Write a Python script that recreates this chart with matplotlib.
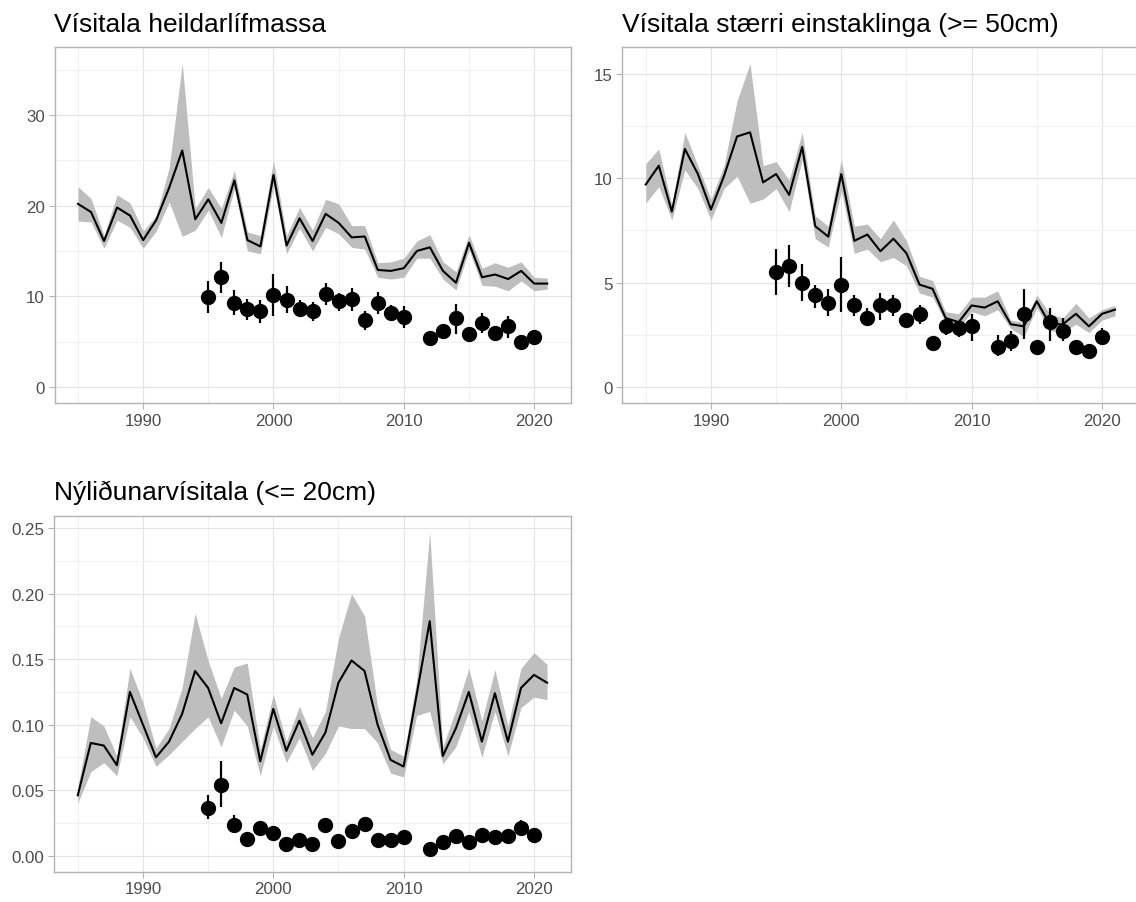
import numpy as np
import matplotlib
matplotlib.use("Agg")
import matplotlib.pyplot as plt
from matplotlib.ticker import MultipleLocator, FormatStrFormatter

plt.rcParams['font.family'] = ['Liberation Sans', 'DejaVu Sans']

years = list(range(1985, 2022))
pt_years = [1995, 1996, 1997, 1998, 1999, 2000, 2001, 2002, 2003, 2004, 2005, 2006,
            2007, 2008, 2009, 2010, 2012, 2013, 2014, 2015, 2016, 2017, 2018, 2019, 2020]

# Vísitala heildarlífmassa
bio_est = [20.2, 19.3, 16.1, 19.8, 18.9, 16.2, 18.4, 22.0, 26.1, 18.5, 20.7, 18.1, 22.8,
           16.2, 15.5, 23.4, 15.6, 18.6, 16.1, 19.1, 18.1, 16.5, 16.6, 12.9, 12.8, 13.1,
           15.0, 15.4, 12.8, 11.5, 15.9, 12.1, 12.4, 11.9, 12.8, 11.4, 11.4]
bio_hi = [22.1, 20.8, 16.7, 21.2, 20.3, 17.2, 18.9, 24.2, 35.7, 19.7, 22.0, 19.7, 23.9,
          17.1, 16.7, 25.0, 16.7, 19.8, 17.3, 20.7, 20.2, 17.8, 17.8, 13.7, 13.8, 14.2,
          16.1, 16.8, 13.8, 12.7, 16.8, 13.1, 13.7, 13.2, 13.8, 12.1, 12.0]
bio_lo = [18.3, 18.2, 15.3, 18.4, 17.6, 15.3, 17.2, 20.4, 16.6, 17.3, 19.5, 16.5, 21.9,
          15.0, 14.7, 22.2, 14.7, 17.5, 15.0, 17.6, 16.9, 15.4, 15.2, 12.1, 11.9, 12.1,
          14.2, 14.2, 11.9, 10.7, 15.1, 11.2, 11.1, 10.6, 11.7, 10.6, 10.8]
bio_obs = [9.9, 12.1, 9.3, 8.6, 8.4, 10.1, 9.6, 8.6, 8.4, 10.2, 9.5, 9.7, 7.4, 9.3, 8.1,
           7.7, 5.4, 6.2, 7.6, 5.8, 7.1, 5.9, 6.7, 4.9, 5.5]
bio_obs_hi = [11.7, 13.8, 10.7, 9.7, 9.6, 12.5, 11.1, 9.6, 9.4, 11.5, 10.4, 10.9, 8.4,
              10.5, 9.0, 8.9, 6.1, 6.8, 9.2, 6.4, 8.1, 6.5, 7.8, 5.5, 6.1]
bio_obs_lo = [8.1, 10.4, 7.9, 7.4, 7.1, 7.8, 8.1, 7.7, 7.3, 9.0, 8.4, 8.4, 6.3, 8.0, 7.3,
              6.5, 4.5, 5.4, 5.8, 5.2, 5.9, 5.3, 5.4, 4.3, 4.9]

# Vísitala stærri einstaklinga (>= 50cm)
big_est = [9.7, 10.6, 8.4, 11.4, 10.2, 8.5, 10.1, 12.0, 12.2, 9.8, 10.2, 9.2, 11.5, 7.7,
           7.2, 10.2, 7.0, 7.3, 6.5, 7.1, 6.4, 4.9, 4.7, 3.3, 3.1, 3.9, 3.8, 4.1, 3.0, 2.9,
           4.1, 3.0, 3.0, 3.5, 2.9, 3.5, 3.7]
big_hi = [10.7, 11.4, 8.7, 12.2, 10.6, 9.0, 10.6, 13.7, 15.5, 10.6, 10.8, 9.9, 12.2, 8.2,
          7.7, 10.9, 7.7, 7.8, 7.1, 8.0, 7.0, 5.3, 5.1, 3.6, 3.5, 4.3, 4.3, 4.6, 3.2, 3.1,
          4.4, 3.5, 3.3, 4.0, 3.3, 3.7, 3.9]
big_lo = [8.8, 9.6, 8.0, 10.4, 9.5, 8.0, 9.5, 10.1, 8.8, 9.0, 9.5, 8.4, 10.9, 7.1, 6.7,
          9.4, 6.4, 6.6, 6.0, 6.2, 5.8, 4.5, 4.3, 3.1, 2.8, 3.6, 3.4, 3.7, 2.8, 2.4, 3.8,
          2.7, 2.6, 3.0, 2.6, 3.2, 3.4]
big_obs = [5.5, 5.8, 5.0, 4.4, 4.0, 4.9, 3.9, 3.3, 3.9, 3.9, 3.2, 3.5, 2.1, 2.9, 2.8,
           2.9, 1.9, 2.2, 3.5, 1.9, 3.1, 2.7, 1.9, 1.7, 2.4]
big_obs_hi = [6.6, 6.8, 5.9, 4.9, 4.7, 6.2, 4.4, 3.8, 4.5, 4.4, 3.5, 3.9, 2.4, 3.3, 3.1,
              3.5, 2.5, 2.7, 4.7, 2.2, 3.8, 3.3, 2.2, 2.0, 2.8]
big_obs_lo = [4.4, 4.8, 4.1, 3.8, 3.4, 3.6, 3.4, 2.9, 3.2, 3.4, 2.8, 3.0, 1.8, 2.5, 2.4,
              2.2, 1.5, 1.7, 2.3, 1.6, 2.2, 2.2, 1.6, 1.4, 2.0]

# Nýliðunarvísitala (<= 20cm)
rec_est = [0.046, 0.086, 0.084, 0.069, 0.125, 0.100, 0.075, 0.087, 0.108, 0.141, 0.128,
           0.101, 0.128, 0.123, 0.072, 0.112, 0.080, 0.103, 0.077, 0.094, 0.132, 0.149,
           0.141, 0.100, 0.073, 0.068, 0.123, 0.179, 0.076, 0.097, 0.125, 0.087, 0.124,
           0.087, 0.128, 0.138, 0.132]
rec_hi = [0.052, 0.106, 0.099, 0.076, 0.143, 0.117, 0.082, 0.097, 0.128, 0.185, 0.149,
          0.120, 0.144, 0.147, 0.081, 0.123, 0.087, 0.114, 0.090, 0.110, 0.166, 0.200,
          0.183, 0.114, 0.081, 0.076, 0.134, 0.247, 0.083, 0.111, 0.143, 0.103, 0.142,
          0.099, 0.143, 0.155, 0.146]
rec_lo = [0.040, 0.064, 0.071, 0.061, 0.106, 0.090, 0.068, 0.077, 0.087, 0.097, 0.106,
          0.083, 0.111, 0.099, 0.061, 0.099, 0.071, 0.090, 0.065, 0.078, 0.099, 0.097,
          0.097, 0.086, 0.063, 0.060, 0.107, 0.110, 0.070, 0.083, 0.110, 0.075, 0.110,
          0.076, 0.113, 0.121, 0.119]
rec_obs = [0.0365, 0.054, 0.023, 0.013, 0.021, 0.017, 0.009, 0.012, 0.009, 0.023, 0.011,
           0.019, 0.024, 0.012, 0.012, 0.014, 0.005, 0.010, 0.015, 0.010, 0.016, 0.014,
           0.015, 0.021, 0.016]
rec_obs_hi = [0.046, 0.072, 0.031, 0.016, 0.024, 0.020, 0.011, 0.015, 0.011, 0.027,
              0.013, 0.022, 0.028, 0.014, 0.014, 0.017, 0.006, 0.012, 0.018, 0.012,
              0.019, 0.017, 0.018, 0.027, 0.019]
rec_obs_lo = [0.028, 0.037, 0.017, 0.010, 0.018, 0.014, 0.007, 0.009, 0.007, 0.019,
              0.009, 0.016, 0.020, 0.010, 0.010, 0.011, 0.004, 0.008, 0.012, 0.008,
              0.013, 0.011, 0.012, 0.015, 0.013]

titles = ["Vísitala heildarlífmassa", "Vísitala stærri einstaklinga (>= 50cm)",
          "Nýliðunarvísitala (<= 20cm)"]

W, H = 1136, 903
fig = plt.figure(figsize=(W / 100, H / 100), dpi=100)
boxes = [(54.5, 48.3), (622.3, 48.3), (54.3, 517.0)]
pw, ph = 516.2, 355.7

panels = [
    (bio_est, bio_lo, bio_hi, bio_obs, bio_obs_lo, bio_obs_hi, 10, None),
    (big_est, big_lo, big_hi, big_obs, big_obs_lo, big_obs_hi, 5, None),
    (rec_est, rec_lo, rec_hi, rec_obs, rec_obs_lo, rec_obs_hi, 0.05, '%.2f'),
]

for (x0, y0), title, (est, lo, hi, obs, olo, ohi, step, fmt) in zip(boxes, titles, panels):
    ax = fig.add_axes([x0 / W, 1 - (y0 + ph) / H, pw / W, ph / H])
    ax.fill_between(years, lo, hi, color='#bebebe', lw=0, zorder=2)
    ax.plot(years, est, color='black', lw=1.5, zorder=3)
    obs = np.array(obs)
    ax.errorbar(pt_years, obs, yerr=[obs - np.array(olo), np.array(ohi) - obs],
                fmt='o', color='black', ms=10, elinewidth=1.6, capsize=0, zorder=4)

    top = max(max(hi), max(ohi))
    ax.set_ylim(-0.05 * top, 1.05 * top)
    ax.set_xlim(1985 - 0.05 * 36, 2021 + 0.05 * 36)

    ax.xaxis.set_major_locator(MultipleLocator(10))
    ax.xaxis.set_minor_locator(MultipleLocator(5))
    ax.yaxis.set_major_locator(MultipleLocator(step))
    ax.yaxis.set_minor_locator(MultipleLocator(step / 2))
    if fmt:
        ax.yaxis.set_major_formatter(FormatStrFormatter(fmt))

    ax.grid(which='major', color='#e3e3e3', lw=0.8, zorder=0)
    ax.grid(which='minor', color='#efefef', lw=0.6, zorder=0)
    ax.set_axisbelow(True)
    for s in ax.spines.values():
        s.set_color('#b3b3b3')
        s.set_linewidth(1.0)
    ax.tick_params(which='major', length=4, width=0.8, color='#b3b3b3',
                   labelsize=12.2, labelcolor='#4d4d4d', pad=3)
    ax.tick_params(which='minor', length=0)
    ax.set_title(title, loc='left', fontsize=19, color='black', pad=12)

fig.savefig('out.png', dpi=100)
